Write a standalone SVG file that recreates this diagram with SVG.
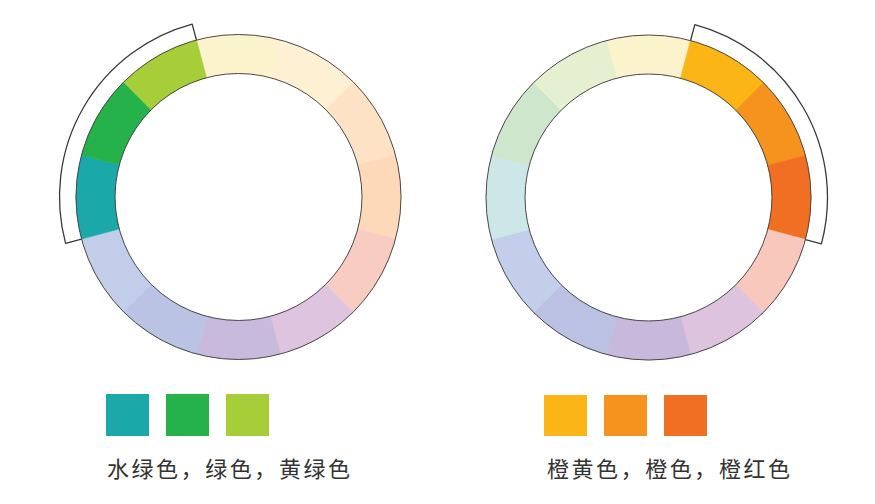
<svg xmlns="http://www.w3.org/2000/svg" xmlns:xlink="http://www.w3.org/1999/xlink" width="875" height="504" viewBox="0 0 875 504">
<style>
.ring{fill:none;stroke:#4a4a4a;stroke-width:1}
.bracket{fill:none;stroke:#3a3a3a;stroke-width:1.3;stroke-linejoin:round}
.seg{stroke-width:0.6}
.label{font-family:"Noto Sans CJK SC","Noto Sans",sans-serif;font-size:22px;fill:#333}
</style>
<defs>
<path id="seg" d="M -42.06 -156.96 A 162.5 162.5 0 0 1 42.06 -156.96 L 31.96 -119.29 A 123.5 123.5 0 0 0 -31.96 -119.29 Z"/>
</defs>
<rect width="875" height="504" fill="#fff"/>
<g id="wheel-left" transform="translate(238.5,197)">
<use xlink:href="#seg" class="seg" fill="#FBF3CB" stroke="#FBF3CB"/>
<use xlink:href="#seg" class="seg" transform="rotate(30)" fill="#FEF0D2" stroke="#FEF0D2"/>
<use xlink:href="#seg" class="seg" transform="rotate(60)" fill="#FDE2C5" stroke="#FDE2C5"/>
<use xlink:href="#seg" class="seg" transform="rotate(90)" fill="#FDD8B9" stroke="#FDD8B9"/>
<use xlink:href="#seg" class="seg" transform="rotate(120)" fill="#F9CCC1" stroke="#F9CCC1"/>
<use xlink:href="#seg" class="seg" transform="rotate(150)" fill="#DFC4DF" stroke="#DFC4DF"/>
<use xlink:href="#seg" class="seg" transform="rotate(180)" fill="#C8BADC" stroke="#C8BADC"/>
<use xlink:href="#seg" class="seg" transform="rotate(210)" fill="#BAC3E3" stroke="#BAC3E3"/>
<use xlink:href="#seg" class="seg" transform="rotate(240)" fill="#C1CDE9" stroke="#C1CDE9"/>
<use xlink:href="#seg" class="seg" transform="rotate(270)" fill="#1AA8A9" stroke="#1AA8A9"/>
<use xlink:href="#seg" class="seg" transform="rotate(300)" fill="#25B24B" stroke="#25B24B"/>
<use xlink:href="#seg" class="seg" transform="rotate(330)" fill="#A6CE39" stroke="#A6CE39"/>
<circle class="ring" r="162.5"/>
<circle class="ring" r="123.5"/>
<path class="bracket" d="M -156.96 42.06 L -172.9 46.33 A 179 179 0 0 1 -46.33 -172.9 L -42.06 -156.96"/>
</g>
<g id="wheel-right" transform="translate(648.5,197.5)">
<use xlink:href="#seg" class="seg" fill="#FBF3CB" stroke="#FBF3CB"/>
<use xlink:href="#seg" class="seg" transform="rotate(30)" fill="#FBB517" stroke="#FBB517"/>
<use xlink:href="#seg" class="seg" transform="rotate(60)" fill="#F6921E" stroke="#F6921E"/>
<use xlink:href="#seg" class="seg" transform="rotate(90)" fill="#F16F22" stroke="#F16F22"/>
<use xlink:href="#seg" class="seg" transform="rotate(120)" fill="#F9C8BD" stroke="#F9C8BD"/>
<use xlink:href="#seg" class="seg" transform="rotate(150)" fill="#DEC3DE" stroke="#DEC3DE"/>
<use xlink:href="#seg" class="seg" transform="rotate(180)" fill="#C8B9DC" stroke="#C8B9DC"/>
<use xlink:href="#seg" class="seg" transform="rotate(210)" fill="#BBC1E3" stroke="#BBC1E3"/>
<use xlink:href="#seg" class="seg" transform="rotate(240)" fill="#C3CEEA" stroke="#C3CEEA"/>
<use xlink:href="#seg" class="seg" transform="rotate(270)" fill="#CDE6E8" stroke="#CDE6E8"/>
<use xlink:href="#seg" class="seg" transform="rotate(300)" fill="#CEE6CB" stroke="#CEE6CB"/>
<use xlink:href="#seg" class="seg" transform="rotate(330)" fill="#E5F0D1" stroke="#E5F0D1"/>
<circle class="ring" r="162.5"/>
<circle class="ring" r="123.5"/>
<path class="bracket" d="M 42.06 -156.96 L 46.33 -172.9 A 179 179 0 0 1 172.9 46.33 L 156.96 42.06"/>
</g>
<g id="swatches-left">
<rect x="106" y="394" width="43" height="42" fill="#1AA8A9"/>
<rect x="166" y="394" width="43" height="42" fill="#25B24B"/>
<rect x="226" y="394" width="43" height="42" fill="#A6CE39"/>
<text class="label" x="107" y="476.5" textLength="243" lengthAdjust="spacing">水绿色，绿色，黄绿色</text>
</g>
<g id="swatches-right">
<rect x="544" y="395" width="43" height="41" fill="#FBB517"/>
<rect x="604" y="395" width="43" height="41" fill="#F6921E"/>
<rect x="664" y="395" width="43" height="41" fill="#F16F22"/>
<text class="label" x="547" y="476.5" textLength="243" lengthAdjust="spacing">橙黄色，橙色，橙红色</text>
</g>
</svg>
